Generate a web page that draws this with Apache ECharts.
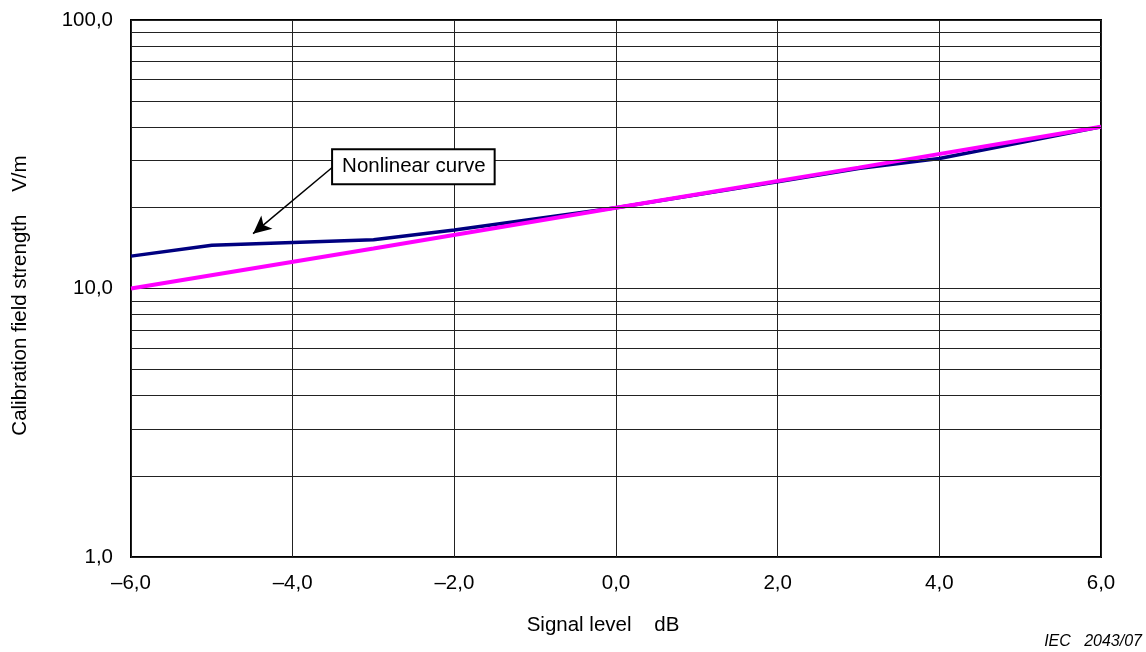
<!DOCTYPE html>
<html>
<head>
<meta charset="utf-8">
<script src="https://cdn.jsdelivr.net/npm/echarts@6/dist/echarts.min.js"></script>
<style>
html,body{margin:0;padding:0;background:#fff;}
#chart{width:1146px;height:652px;}
</style>
</head>
<body>
<div id="chart"></div>
<script>
// Data
const xTicks = [-6, -4, -2, 0, 2, 4, 6];
const yTicks = [1, 10, 100];
const minorGridValues = [2, 3, 4, 5, 6, 7, 8, 9, 20, 30, 40, 50, 60, 70, 80, 90];
const nonlinearX = [-6, -5, -3, -2, 0, 2, 3, 4, 6];
const nonlinearY = [13.2, 14.5, 15.2, 16.5, 20, 25, 28, 30.5, 40];
const linearX = [-6, -3, 0, 3, 6];
const linearY = [10, 14.1, 20, 28.2, 40];
const annotationText = 'Nonlinear curve';
const annotationFrom = [-3.5, 28.4];
const annotationTo = [-4.49, 16.0];

const fmt = v => {
  const s = Math.abs(v).toFixed(1).replace('.', ',');
  return (v < 0 ? '\u2013' : '') + s;
};

const chart = echarts.init(document.getElementById('chart'));
const font = 'Liberation Sans, Arial, sans-serif';
const fs = 20.5;

chart.setOption({
  animation: false,
  backgroundColor: '#fff',
  grid: {
    left: 131, right: 45, top: 20, bottom: 95,
    show: true, borderColor: '#000', borderWidth: 2, backgroundColor: 'transparent'
  },
  xAxis: {
    type: 'value', min: -6, max: 6, interval: 2,
    name: 'Signal level    dB', nameLocation: 'middle', nameGap: 58,
    nameTextStyle: { fontFamily: font, fontSize: fs, color: '#000', padding: [0, 26, 0, 0] },
    axisLine: { show: false },
    axisTick: { show: false },
    axisLabel: { fontFamily: font, fontSize: fs, color: '#000', margin: 16, formatter: fmt },
    splitLine: { show: true, lineStyle: { color: '#222', width: 1 } }
  },
  yAxis: {
    type: 'log', logBase: 10, min: 1, max: 100,
    name: 'Calibration field strength    V/m', nameLocation: 'middle', nameGap: 100,
    nameTextStyle: { fontFamily: font, fontSize: fs, color: '#000', padding: [0, 14, 0, 0] },
    axisLine: { show: false },
    axisTick: { show: false },
    axisLabel: { fontFamily: font, fontSize: fs, color: '#000', margin: 18,
      formatter: v => (v >= 0.99 && yTicks.some(t => Math.abs(v - t) < 1e-6 * t)) ? fmt(Math.round(v)) : '' },
    splitLine: { show: true, lineStyle: { color: '#222', width: 1 } }
  },
  series: [
    {
      type: 'line', name: 'grid', data: [], silent: true,
      markLine: {
        silent: true, symbol: ['none', 'none'], animation: false,
        label: { show: false },
        lineStyle: { color: '#222', width: 1, type: 'solid' },
        data: minorGridValues.map(v => ({ yAxis: v }))
      }
    },
    {
      type: 'line', name: 'Nonlinear curve',
      data: nonlinearX.map((x, i) => [x, nonlinearY[i]]),
      showSymbol: false, symbol: 'none',
      lineStyle: { color: '#000080', width: 3.5 },
      z: 3
    },
    {
      type: 'line', name: 'Linear',
      data: linearX.map((x, i) => [x, linearY[i]]),
      showSymbol: false, symbol: 'none',
      lineStyle: { color: '#FF00FF', width: 4 },
      z: 4,
      markLine: {
        silent: true, animation: false,
        symbol: ['none', 'arrow'], symbolSize: [13, 18],
        label: { show: false },
        lineStyle: { color: '#000', width: 1.5, type: 'solid' },
        data: [[{ coord: annotationFrom }, { coord: annotationTo }]]
      },
      markPoint: {
        silent: true, animation: false,
        symbol: 'rect', symbolSize: 0,
        data: [{
          coord: annotationFrom,
          label: {
            show: true, position: 'right', distance: 0,
            formatter: annotationText,
            fontFamily: font, fontSize: fs, color: '#000',
            backgroundColor: '#fff', borderColor: '#000', borderWidth: 2,
            padding: [6, 8, 6, 9]
          }
        }]
      }
    }
  ],
  graphic: [{
    type: 'text', right: 4, bottom: 2,
    style: { text: 'IEC   2043/07', font: 'italic 16px Liberation Sans, Arial, sans-serif', fill: '#000' }
  }]
});
</script>
</body>
</html>
